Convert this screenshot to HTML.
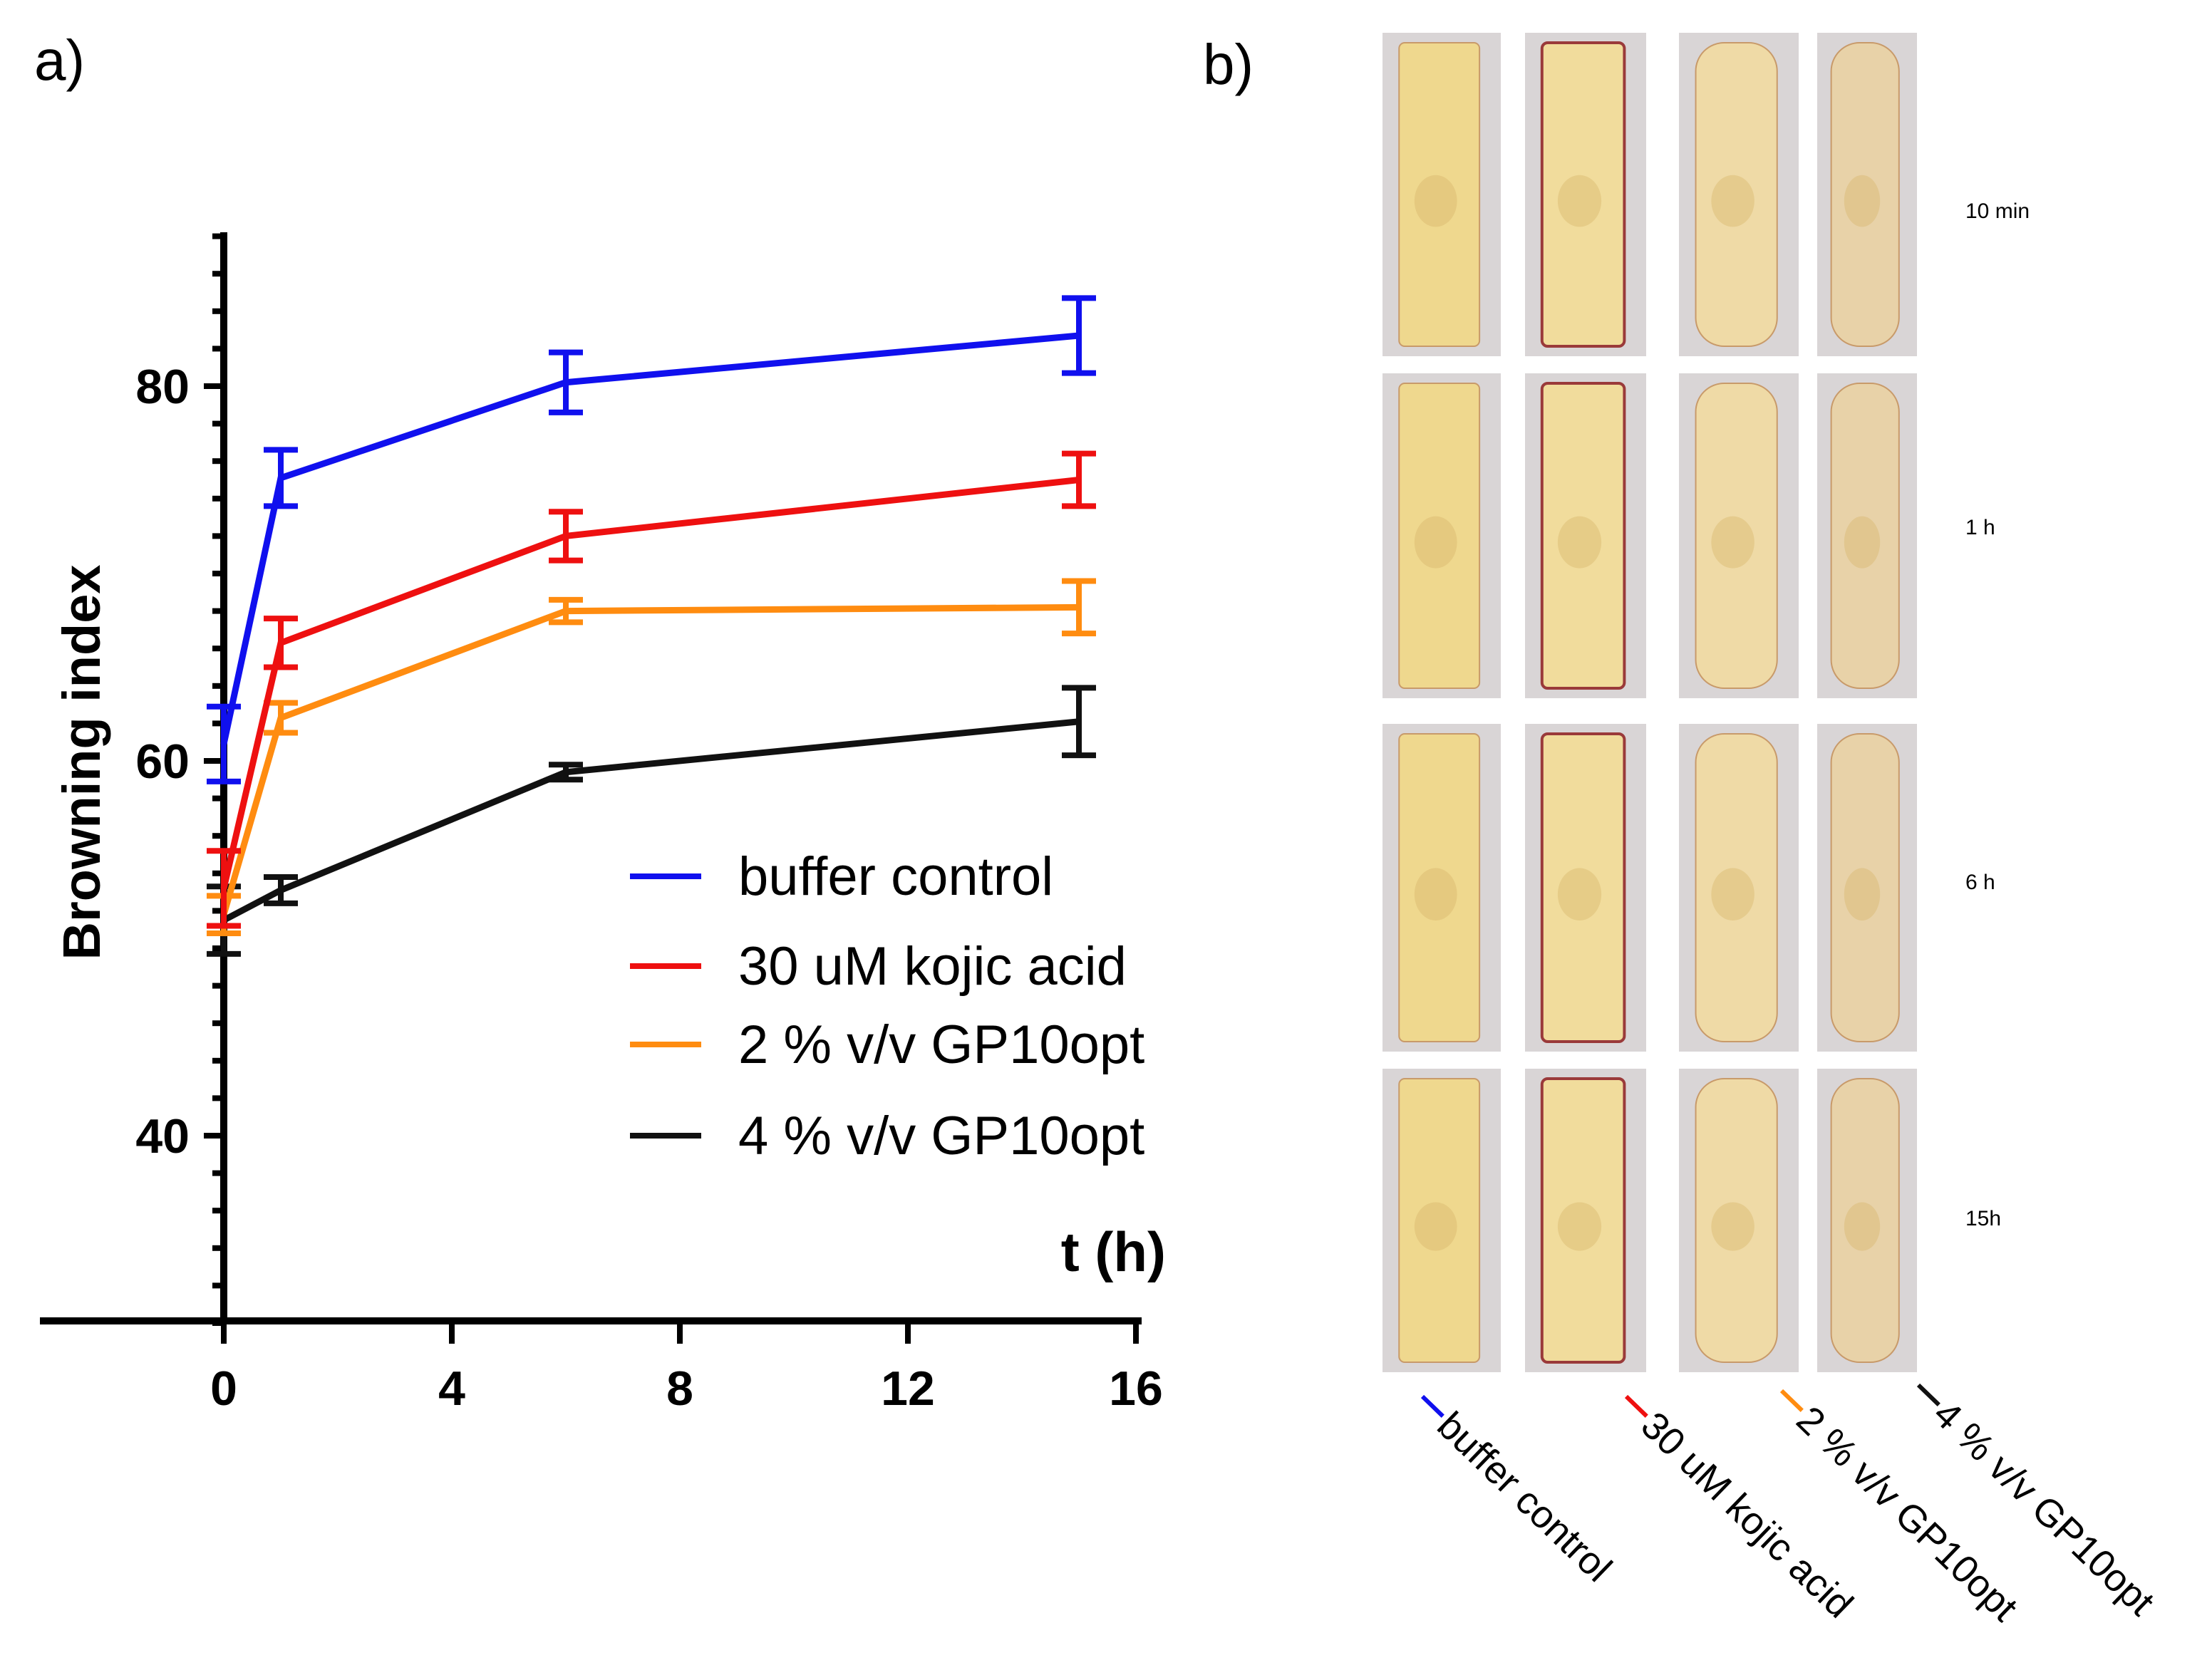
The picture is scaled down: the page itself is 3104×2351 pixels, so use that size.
<!DOCTYPE html>
<html><head><meta charset="utf-8"><style>
html,body{margin:0;padding:0;background:#fff}
svg{display:block;font-family:"Liberation Sans",Arial,sans-serif}
</style></head><body>
<svg id="fig" width="3104" height="2351" viewBox="0 0 3104 2351" xmlns="http://www.w3.org/2000/svg">
<text x="48" y="112" font-size="80">a)</text>
<text x="1688" y="118" font-size="80">b)</text>
<g id="chart"></g>
<g id="photos"></g>
</svg>
<script>
const times = [0, 1, 6, 15];
const seriesNames = ["buffer control", "30 uM kojic acid", "2 % v/v GP10opt", "4 % v/v GP10opt"];
const seriesColors = ["#1010ee", "#ee1010", "#ff8c10", "#111111"];
const blueVals = [60.9, 75.1, 80.2, 82.7];
const blueErr = [2.0, 1.5, 1.6, 2.0];
const redVals = [53.2, 66.3, 72.0, 75.0];
const redErr = [2.0, 1.3, 1.3, 1.4];
const orangeVals = [51.8, 62.3, 68.0, 68.2];
const orangeErr = [1.0, 0.8, 0.6, 1.4];
const blackVals = [51.5, 53.1, 59.4, 62.1];
const blackErr = [1.8, 0.7, 0.4, 1.8];
const xTicks = [0, 4, 8, 12, 16];
const yTicks = [40, 60, 80];

const NS = "http://www.w3.org/2000/svg";
function mk(tag, attrs, parent){const e=document.createElementNS(NS,tag);for(const k in attrs)e.setAttribute(k,attrs[k]);parent.appendChild(e);return e;}
const X = t => 314 + t * 80;
const Y = v => 542 + (80 - v) * 26.3;
const chart = document.getElementById('chart');

let ax = mk('line',{x1:314,y1:326,x2:314,y2:1858,stroke:'#000','stroke-width':10},chart);


let axx = mk('line',{x1:56,y1:1854,x2:1602,y2:1854,stroke:'#000','stroke-width':10},chart);


for(let v=30; v<=88; v+=2){
  const major = yTicks.includes(v);
  const t = mk('line',{x1:major?286:298,y1:Y(v),x2:314,y2:Y(v),stroke:'#000','stroke-width':8},chart);
  
  
}
yTicks.forEach(v=>{
  const t = mk('text',{x:266,y:Y(v)+24,'font-size':68,'font-weight':'bold','text-anchor':'end'},chart);
  t.textContent=v;
  
  
});
xTicks.forEach(v=>{
  const l = mk('line',{x1:X(v),y1:1854,x2:X(v),y2:1886,stroke:'#000','stroke-width':8},chart);
  
  
  const t = mk('text',{x:X(v),y:1972,'font-size':68,'font-weight':'bold','text-anchor':'middle'},chart);
  t.textContent=v;
  
  
});
const yt = mk('text',{x:0,y:0,'font-size':74,'font-weight':'bold','text-anchor':'middle',transform:'translate(140,1070) rotate(-90)'},chart);
yt.textContent='Browning index';


const xt = mk('text',{x:1636,y:1784,'font-size':78,'font-weight':'bold','text-anchor':'end'},chart);
xt.textContent='t (h)';



const allVals=[blueVals,redVals,orangeVals,blackVals];
const allErr=[blueErr,redErr,orangeErr,blackErr];
const order=[3,2,1,0];
order.forEach(s=>{
  const g = mk('g',{},chart);
  
  
  const pts = times.map((t,i)=>X(t)+','+Y(allVals[s][i])).join(' ');
  const pl = mk('polyline',{points:pts,fill:'none',stroke:seriesColors[s],'stroke-width':9},g);
  
  
  times.forEach((t,i)=>{
    const x=X(t), y1=Y(allVals[s][i]+allErr[s][i]), y2=Y(allVals[s][i]-allErr[s][i]);
    const e = mk('path',{d:`M${x},${y1}V${y2}M${x-24},${y1}H${x+24}M${x-24},${y2}H${x+24}`,stroke:seriesColors[s],'stroke-width':8,fill:'none'},g);
    
    
  });
});
const legY=[1230,1356,1466,1594];
seriesNames.forEach((n,i)=>{
  const g = mk('g',{},chart);
  
  
  mk('line',{x1:884,y1:legY[i],x2:984,y2:legY[i],stroke:seriesColors[i],'stroke-width':8},g);
  const t = mk('text',{x:1036,y:legY[i]+26,'font-size':76},g);
  t.textContent=n;
});

const photos=document.getElementById('photos');
const cols=[[1940,2106],[2140,2310],[2356,2524],[2550,2690]];
const rows=[[46,500],[524,980],[1016,1476],[1500,1926]];
const fills=["#efd88e","#f1dc9c","#efdaa6","#e8d2a8"];
rows.forEach((r,ri)=>{cols.forEach((c,ci)=>{
  const g=mk('g',{},photos);
  
  
  mk('rect',{x:c[0],y:r[0],width:c[1]-c[0],height:r[1]-r[0],fill:'#d9d5d6'},g);
  const w=c[1]-c[0], h=r[1]-r[0];
  mk('rect',{x:c[0]+w*0.14,y:r[0]+14,width:w*0.68,height:h-28,rx:ci>=2?40:8,fill:fills[ci],stroke:ci==1?'#9a3a3a':'#c89a6a','stroke-width':ci==1?4:2},g);
  mk('ellipse',{cx:c[0]+w*0.45,cy:r[0]+h*0.52,rx:w*0.18,ry:h*0.08,fill:'#d8b56a',opacity:0.4},g);
});});
const tl=[["10 min",306],["1 h",750],["6 h",1248],["15h",1720]];
tl.forEach(a=>{const t=mk('text',{x:2758,y:a[1],'font-size':30},photos);t.textContent=a[0];

});
const bl=[[1996,1960],[2282,1960],[2500,1952],[2692,1944]];
seriesNames.forEach((n,i)=>{
  const g=mk('g',{transform:`translate(${bl[i][0]},${bl[i][1]}) rotate(44)`},photos);
  
  
  mk('line',{x1:0,y1:0,x2:40,y2:0,stroke:seriesColors[i],'stroke-width':6},g);
  const t=mk('text',{x:44,y:20,'font-size':54},g);t.textContent=n;
});
</script>
</body></html>
